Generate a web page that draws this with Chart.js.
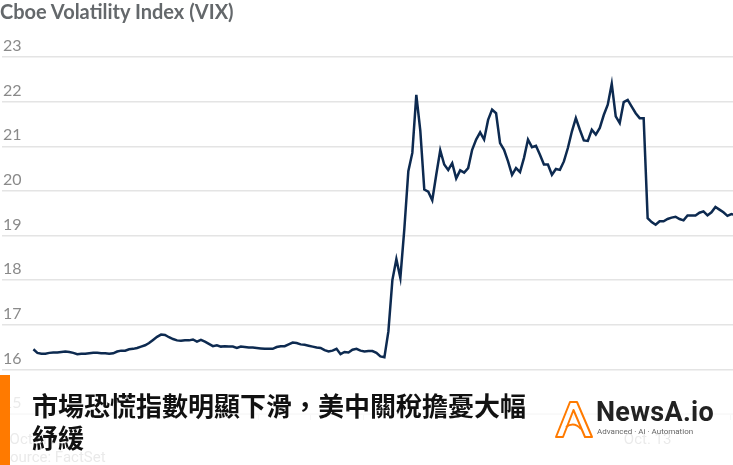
<!DOCTYPE html>
<html>
<head>
<meta charset="utf-8">
<script src="https://cdn.jsdelivr.net/npm/chart.js@4.4.1/dist/chart.umd.min.js"></script>
<style>
  body { margin: 0; background: #fff; }
  #wrap { position: relative; width: 733px; height: 465px; overflow: hidden; background: #fff; }
  #chartBox { position: absolute; left: 0; top: 0; width: 733px; height: 465px; }
  #title { position: absolute; left: 0; top: -1px; font: 700 20px Lato, sans-serif; color: #64686b; }
  #source { position: absolute; left: 1px; top: 448px; font: 15px Roboto, sans-serif; color: #8a8a8a; }
  #overlay { position: absolute; left: 10px; top: 375px; width: 723px; height: 90px; background: rgba(255,255,255,0.82); }
  #bar { position: absolute; left: 0; top: 375px; width: 10px; height: 90px; background: #ff7a00; }
  #headline { position: absolute; left: 32px; top: 389px; font: 700 26px "Noto Sans CJK TC", sans-serif; line-height: 32px; color: #111; }
  #logo { position: absolute; left: 554px; top: 399px; width: 160px; height: 40px; }
  #logo svg { position: absolute; left: 0; top: 0; }
  #logoName { position: absolute; left: 42px; top: -3px; font: 700 27px "Liberation Sans Narrow", Roboto, sans-serif; color: #222; letter-spacing: 0.3px; }
  #logoSub { position: absolute; left: 43px; top: 28px; font: 8px Roboto, sans-serif; color: #666; white-space: nowrap; }
</style>
</head>
<body>
<div id="wrap">
  <div id="chartBox"><canvas id="vixChart"></canvas></div>
  <div id="title">Cboe Volatility Index (VIX)</div>
  <div id="source">Source: FactSet</div>
  <div id="overlay"></div>
  <div id="bar"></div>
  <div id="headline">市場恐慌指數明顯下滑，美中關稅擔憂大幅<br>紓緩</div>
  <div id="logo">
    <svg width="40" height="40" viewBox="0 0 40 40">
      <path d="M2 38 L16 3 L23 3 L38 38 L31 38 L19.5 11 L9 38 Z" fill="none" stroke="#ff7a00" stroke-width="2" stroke-linejoin="round"/>
      <path d="M12 28 Q20 22 27 30" fill="none" stroke="#ff7a00" stroke-width="2"/>
    </svg>
    <div id="logoName">NewsA.io</div>
    <div id="logoSub">Advanced · Ai · Automation</div>
  </div>
</div>
<script>
// VIX readings, one every few minutes, Oct. 10 then Oct. 13
const vix = [
  16.45, 16.37, 16.35, 16.35, 16.37, 16.38, 16.38, 16.39, 16.40, 16.39,
  16.37, 16.34, 16.35, 16.35, 16.36, 16.37, 16.37, 16.36, 16.36, 16.35,
  16.36, 16.40, 16.42, 16.42, 16.45, 16.46, 16.48, 16.51, 16.54, 16.59,
  16.66, 16.73, 16.78, 16.77, 16.72, 16.68, 16.65, 16.64, 16.65, 16.65,
  16.67, 16.62, 16.66, 16.62, 16.57, 16.52, 16.54, 16.51, 16.52, 16.51,
  16.51, 16.48, 16.51, 16.50, 16.49, 16.49, 16.48, 16.47, 16.46, 16.46,
  16.46, 16.50, 16.52, 16.52, 16.56, 16.60, 16.59, 16.56, 16.55, 16.53,
  16.51, 16.49, 16.48, 16.43, 16.40, 16.42, 16.46, 16.34, 16.39, 16.38,
  16.44, 16.46, 16.42, 16.40, 16.41, 16.41, 16.37, 16.29, 16.27, 16.85,
  18.00, 18.47, 18.05, 19.15, 20.44, 20.85, 22.15, 21.35, 20.03, 19.98,
  19.79, 20.36, 20.91, 20.59, 20.47, 20.62, 20.28, 20.46, 20.41, 20.51,
  20.92, 21.15, 21.31, 21.15, 21.59, 21.82, 21.74, 21.07, 20.92, 20.66,
  20.36, 20.51, 20.42, 20.74, 21.15, 20.98, 21.01, 20.81, 20.59, 20.59,
  20.36, 20.49, 20.47, 20.66, 20.96, 21.33, 21.63, 21.37, 21.13, 21.12,
  21.37, 21.26, 21.41, 21.70, 21.93, 22.40, 21.67, 21.52, 21.99, 22.04,
  21.89, 21.74, 21.63, 21.63, 19.39, 19.30, 19.24, 19.32, 19.32, 19.37,
  19.40, 19.42, 19.37, 19.34, 19.45, 19.45, 19.45, 19.51, 19.54, 19.45,
  19.52, 19.64, 19.58, 19.52, 19.44, 19.48, 19.46
];

// day labels and the reading where each day starts
const dayLabels = ['Oct. 10', 'Oct. 13'];
const dayStarts = [0, 154];

// small tick marks along the bottom (in reading units)
const firstTick = 3.8;
const tickStep = 13.15;

const yMin = 15;
const yMax = 23;

const tickMarks = [];
for (let t = firstTick; t < vix.length; t += tickStep) {
  tickMarks.push(t);
}

const points = vix.map((v, i) => ({ x: i, y: v }));

const xMin = -7.875;
const xMax = 175.4;

const ctx = document.getElementById('vixChart');
new Chart(ctx, {
  type: 'line',
  data: {
    datasets: [{
      data: points,
      borderColor: '#0d2a50',
      borderWidth: 2.5,
      pointRadius: 0,
      tension: 0,
      xAxisID: 'x',
      yAxisID: 'y'
    }]
  },
  options: {
    responsive: true,
    maintainAspectRatio: false,
    animation: false,
    layout: { padding: { top: 57, left: 0, right: 0, bottom: 13 } },
    plugins: { legend: { display: false }, tooltip: { enabled: false } },
    scales: {
      x: {
        type: 'linear',
        position: 'bottom',
        min: xMin,
        max: xMax,
        afterBuildTicks: (scale) => { scale.ticks = tickMarks.map(v => ({ value: v })); },
        grid: { drawOnChartArea: false, drawTicks: true, tickLength: 6, color: '#cfcfcf' },
        border: { display: true, color: '#dcdcdc' },
        ticks: { display: false }
      },
      x2: {
        type: 'linear',
        position: 'bottom',
        min: xMin,
        max: xMax,
        afterBuildTicks: (scale) => { scale.ticks = dayStarts.map(v => ({ value: v })); },
        grid: { display: false },
        border: { display: false },
        ticks: {
          padding: 3,
          maxRotation: 0,
          color: '#8a8a8a',
          font: { family: 'Roboto', size: 15 },
          callback: (value, index) => dayLabels[index]
        }
      },
      y: {
        min: yMin,
        max: yMax,
        position: 'left',
        grid: { color: '#e4e4e4', lineWidth: 1.5, drawTicks: false },
        border: { display: false },
        ticks: {
          stepSize: 1,
          mirror: true,
          padding: 1,
          labelOffset: -11,
          color: '#8a8a8a',
          font: { family: 'Lato', size: 16 }
        }
      }
    }
  }
});
</script>
</body>
</html>
